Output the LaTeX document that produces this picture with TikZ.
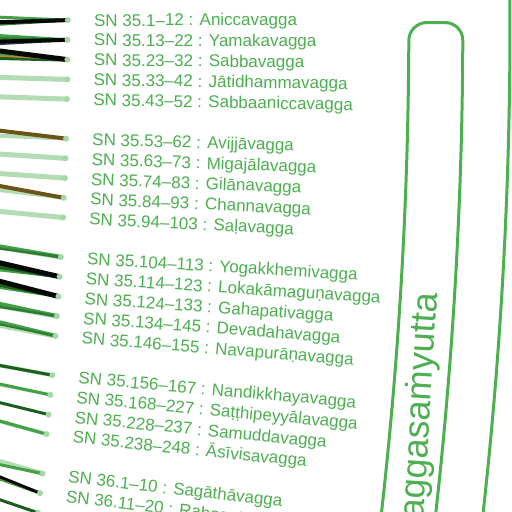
\documentclass[tikz,border=0pt]{standalone}
\usepackage{fontspec}
\setmainfont{Liberation Sans}
\definecolor{txtg}{HTML}{4CAF50}
\definecolor{lg}{HTML}{B3DBB4}
\definecolor{dotg}{HTML}{A5D6A7}
\definecolor{g1}{HTML}{43A047}
\definecolor{g2}{HTML}{2E7D32}
\definecolor{g3}{HTML}{1B5E20}
\definecolor{blk}{HTML}{050A05}
\definecolor{olv}{HTML}{6B5418}
\definecolor{slt}{HTML}{2F3D4A}
\definecolor{org}{HTML}{C08A30}
\tikzset{
  leafdot/.style={circle, fill=dotg, inner sep=0pt, minimum size=6pt},
  lab/.style={text=txtg, font=\fontsize{17}{20}\selectfont, inner sep=0pt},
  bandline/.style={draw=txtg, line width=3pt},
  bandlab/.style={text=txtg, font=\fontsize{36}{40}\selectfont, inner sep=0pt},
}
\newcommand{\leaflines}[2]{%
  \pgfmathsetmacro\lang{0.07-0.283*#1}%
  \pgfmathsetmacro\ldx{4000*cos(\lang)-3932}%
  \begin{scope}[shift={(C)}, rotate=\lang]
    \coordinate (d#1) at (4000,0);
    \foreach \cl/\dyv/\wv [count=\k] in {#2} {
      \pgfmathsetmacro\tof{(\dyv)*(-120)/\ldx}
      \coordinate (s#1-\k) at (3880,\tof);
      \draw[line width=\wv pt, draw=\cl] (s#1-\k) -- (d#1);
    }
    \node[leafdot] (n#1) at (d#1) {};
  \end{scope}}
\newcommand{\leafrow}[3]{%
  \leaflines{#1}{#3}%
  \begin{scope}[shift={(C)}, rotate=\lang]
    \node[lab, rotate=\lang, anchor=base west] (t#1) at (4026,-6) {#2};
  \end{scope}}
\begin{document}
\begin{tikzpicture}[x=1pt,y=1pt]
\useasboundingbox (0,0) rectangle (512,512);
\fill[white] (0,0) rectangle (512,512);
\clip (0,0) rectangle (512,512);
\coordinate (C) at (-3932,487);
\leafrow{0}{SN 35.1–12 : Aniccavagga}{g1/-3/3, g2/4/3, blk/2/4}
\leafrow{1}{SN 35.13–22 : Yamakavagga}{g1/-4/3, g2/-1/3, slt/4/3, blk/2/4}
\leafrow{2}{SN 35.23–32 : Sabbavagga}{g1/-4/3, g3/-1/4, org/-3/1.5, blk/-8/5}
\leafrow{3}{SN 35.33–42 : Jātidhammavagga}{lg/-1/5}
\leafrow{4}{SN 35.43–52 : Sabbaaniccavagga}{lg/-1/5}
\leafrow{6}{SN 35.53–62 : Avijjāvagga}{lg/-1/4, olv/-6/4}
\leafrow{7}{SN 35.63–73 : Migajālavagga}{lg/-2/5}
\leafrow{8}{SN 35.74–83 : Gilānavagga}{lg/-2/5}
\leafrow{9}{SN 35.84–93 : Channavagga}{lg/-5/4, olv/-9/4}
\leafrow{10}{SN 35.94–103 : Saḷavagga}{lg/-3/5}
\leafrow{12}{SN 35.104–113 : Yogakkhemivagga}{lg/-6/5, g1/-7/4, g2/-5/2.5}
\leafrow{13}{SN 35.114–123 : Lokakāmaguṇavagga}{g1/-3/3, g3/-6/4, blk/-10/5}
\leafrow{14}{SN 35.124–133 : Gahapativagga}{g1/-5/3, g3/-7/3, blk/-11/5}
\leafrow{15}{SN 35.134–145 : Devadahavagga}{lg/-6/5, g1/-8/4, g2/-5/2.5}
\leafrow{16}{SN 35.146–155 : Navapurāṇavagga}{lg/-6/5, g1/-9/4, g2/-7/2}
\leafrow{18}{SN 35.156–167 : Nandikkhayavagga}{lg/-5/4, g3/-5/3}
\leafrow{19}{SN 35.168–227 : Saṭṭhipeyyālavagga}{lg/-5/3, g1/-6/3}
\leafrow{20}{SN 35.228–237 : Samuddavagga}{g3/-7/3}
\leafrow{21}{SN 35.238–248 : Āsīvisavagga}{lg/-8/4, g1/-8/3}
\leafrow{23}{SN 36.1–10 : Sagāthāvagga}{lg/-7/5, g1/-4/3}
\leafrow{24}{SN 36.11–20 : Rahogatavagga}{g1/-9/3, org/-10/2, blk/-11/3}
\leaflines{25}{g3/-8/3}
\begin{scope}[shift={(C)}]
  \draw[bandline] (-8:4341pt) arc[start angle=-8, end angle=-0.205, radius=4341pt]
    .. controls (-0.073:4341pt) and (0.033:4349pt) .. (0.033:4359pt)
    -- (0.033:4377pt)
    .. controls (0.033:4387pt) and (-0.072:4395pt) .. (-0.202:4395pt)
    arc[start angle=-0.202, end angle=-8, radius=4395pt];
  \draw[bandline] (2:4442pt) arc[start angle=2, end angle=-8, radius=4442pt];
  \node[bandlab, rotate=86.48, anchor=base east] (bt) at (-3.52:4378pt) {aggasaṁyutta};
\end{scope}
\end{tikzpicture}
\end{document}
